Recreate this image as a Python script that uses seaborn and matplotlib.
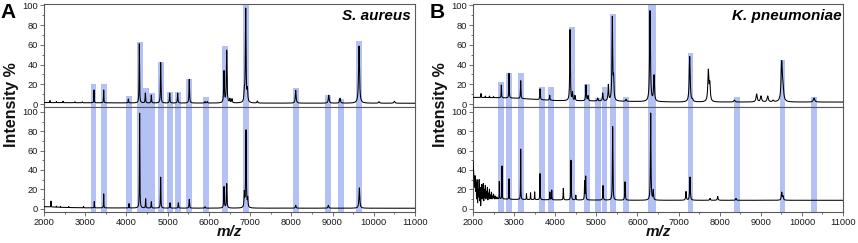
import numpy as np
import pandas as pd
import seaborn as sns
import matplotlib.pyplot as plt
from matplotlib.ticker import MultipleLocator

# ---------------- data ----------------
# highlighted m/z windows (centre, width) and their heights in the reference trace
a_band_mz = [3200, 3460, 4055, 4330, 4470, 4620, 4845, 5053, 5250, 5518, 5922,
             6384, 6904, 8110, 8890, 9198, 9635]
a_band_w = [140, 140, 145, 135, 150, 150, 145, 140, 145, 145, 145,
            145, 140, 150, 145, 145, 145]
a_band_h = [20, 20, 8.5, 62.5, 16, 11.5, 42.5, 12, 12.5, 25.5, 7,
            59, 104, 16, 9, 5.5, 64]

b_band_mz = [2685, 2880, 3164, 3675, 3894, 4400, 4777, 5037, 5198, 5402, 5726,
             6350, 7283, 8422, 9528, 10295]
b_band_w = [138, 138, 138, 138, 138, 138, 138, 138, 136, 138, 138,
            188, 122, 130, 137, 130]
b_band_h = [22, 32, 32, 17, 17, 78, 20, 6, 17, 91, 7,
            104, 52, 7, 45, 7]

# S. aureus, reference spectrum (upper)
a_ref_base_mz = [2000, 3000, 5000, 8000, 11000]
a_ref_base_i = [1.5, 1.3, 1.0, 0.9, 0.8]
a_ref_peak_mz = [2146, 2300, 2460, 2750, 2930, 3213, 3448, 4046, 4312, 4458, 4603,
                 4830, 5049, 5243, 5524, 5905, 5960, 6367, 6432, 6510, 6560,
                 6860, 6893, 6935, 7175, 8106, 8907, 9181, 9642, 10127, 10500]
a_ref_peak_i = [2, 1, 1.5, 1, 1, 13, 13, 4, 60, 10, 8,
                41, 10, 10, 24, 1.5, 1.5, 32, 53, 4, 4,
                10, 95, 12, 2, 13, 8, 5, 58, 1.5, 2]

# S. aureus, measured spectrum (lower)
a_smp_base_mz = [2000, 2500, 3000, 5000, 11000]
a_smp_base_i = [2.0, 1.2, 0.8, 0.5, 0.4]
a_smp_peak_mz = [2170, 2300, 2400, 2600, 2960, 3220, 3448, 4062, 4320, 4466, 4603,
                 4830, 5056, 5258, 5524, 5905, 6367, 6432, 6860, 6900, 6942,
                 8106, 8898, 9650]
a_smp_peak_i = [6, 1, 1, 1, 1.5, 6.5, 14.5, 4.5, 98, 9.5, 6.5,
                32, 5.5, 5.5, 9, 1.5, 22, 25, 15, 80, 9,
                3, 3, 21]

# K. pneumoniae, reference spectrum (upper)
b_ref_base_mz = [2000, 2500, 3000, 3400, 4000, 5000, 6000, 7000, 11000]
b_ref_base_i = [6.7, 6.5, 6.0, 5.0, 3.5, 3.0, 2.5, 2.0, 2.0]
b_ref_peak_mz = [2195, 2300, 2400, 2500, 2689, 2876, 3160, 3630, 3866, 4360, 4420,
                 4480, 4749, 4800, 5033, 5155, 5292, 5389, 5420, 5722, 6306, 6403,
                 7271, 7340, 7724, 7760, 8357, 8900, 9005, 9168, 9300, 9509, 9540,
                 10295]
b_ref_peak_i = [4, 1.5, 1.5, 1, 13, 25, 18, 11, 5, 72, 8,
                5, 16, 5, 3, 8, 16, 84, 20, 2, 92, 26,
                46, 2, 31, 17, 2, 8, 6, 6, 1.5, 39, 12,
                4]

# K. pneumoniae, measured spectrum (lower) - noisy start then flat baseline
b_smp_base_mz = [2000, 2012, 2025, 2037, 2050, 2062, 2075, 2087, 2100, 2112, 2125,
                 2137, 2150, 2162, 2175, 2187, 2200, 2212, 2225, 2237, 2250, 2262,
                 2275, 2287, 2300, 2312, 2325, 2337, 2350, 2362, 2375, 2387, 2400,
                 2412, 2425, 2437, 2450, 2462, 2475, 2487, 2500, 2520, 2540, 2560,
                 2580, 2600, 2700, 3000, 4000, 6000, 11000]
b_smp_base_i = [49, 40, 30, 22, 34, 18, 27, 10, 30, 6, 20, 12, 30, 8, 22, 3, 18, 25,
                10, 15, 26, 8, 20, 12, 24, 10, 18, 12, 22, 9, 16, 12, 20, 10, 14,
                11, 17, 10, 13, 11, 15, 10, 13, 10, 12, 10, 10, 9.5, 9, 8.6, 8.6]
b_smp_peak_mz = [2640, 2705, 2876, 3160, 3300, 3400, 3500, 3630, 3870, 3915, 4197,
                 4384, 4500, 4715, 4741, 5162, 5397, 5697, 6322, 6385, 7181, 7278,
                 7766, 7952, 8397, 9509, 9540]
b_smp_peak_i = [18, 34, 21, 52, 6, 7, 8, 27, 8, 10, 12,
                41, 5, 19, 24, 15, 76, 19, 90, 10, 9, 24,
                2, 4, 2, 8, 4]

x_ticks = [2000, 3000, 4000, 5000, 6000, 7000, 8000, 9000, 10000, 11000]
y_ticks = [0, 20, 40, 60, 80, 100]
species = ["S. aureus", "K. pneumoniae"]
panel_letters = ["A", "B"]

# ---------------- style ----------------
sns.set_theme(style="white")
plt.rcParams["font.family"] = ["Liberation Sans", "DejaVu Sans"]
BAND = "#b3c1f4"
SPINE = "#5a5a5a"

fig = plt.figure(figsize=(8.58, 2.43), dpi=100)
W, H = 858.0, 243.0


def trace(base_mz, base_i, peak_mz, peak_i, rel_w):
    grid = np.arange(2000.0, 11000.5, 1.0)
    y = np.interp(grid, base_mz, base_i)
    for m, h in zip(peak_mz, peak_i):
        g = rel_w * m
        y = y + h * g * g / ((grid - m) ** 2 + g * g)
    return pd.DataFrame({"mz": grid, "intensity": y})


def style_axes(ax, ylim, show_x):
    ax.set_xlim(2000, 11000)
    ax.set_ylim(*ylim)
    ax.set_xticks(x_ticks)
    ax.set_yticks(y_ticks)
    ax.xaxis.set_minor_locator(MultipleLocator(500))
    ax.yaxis.set_minor_locator(MultipleLocator(10))
    ax.tick_params(which="both", direction="out", bottom=True, left=True,
                   top=False, right=False, colors=SPINE, labelcolor="#1a1a1a",
                   labelsize=6.7, width=0.6, pad=1.5)
    ax.tick_params(which="major", length=2.6)
    ax.tick_params(which="minor", length=1.5)
    ax.tick_params(axis="x", labelbottom=show_x)
    for s in ax.spines.values():
        s.set_color(SPINE)
        s.set_linewidth(0.8)
    ax.set_xlabel("")
    ax.set_ylabel("")
    ax.set_facecolor("white")


panels = [
    (44, 415, a_band_mz, a_band_w, a_band_h,
     trace(a_ref_base_mz, a_ref_base_i, a_ref_peak_mz, a_ref_peak_i, 0.0014),
     trace(a_smp_base_mz, a_smp_base_i, a_smp_peak_mz, a_smp_peak_i, 0.0012),
     0.988),
    (473, 843, b_band_mz, b_band_w, b_band_h,
     trace(b_ref_base_mz, b_ref_base_i, b_ref_peak_mz, b_ref_peak_i, 0.0019),
     trace(b_smp_base_mz, b_smp_base_i, b_smp_peak_mz, b_smp_peak_i, 0.0012),
     0.996),
]

up_lim = (-3, 101.5)
lo_lim = (-3.5, 105)

for k, (x0, x1, bmz, bw, bh, ref, smp, tx) in enumerate(panels):
    ax_up = fig.add_axes([x0 / W, 1 - 107 / H, (x1 - x0) / W, 103 / H])
    ax_lo = fig.add_axes([x0 / W, 1 - 212 / H, (x1 - x0) / W, 105 / H])

    # highlight bands
    ax_up.bar(bmz, [h - up_lim[0] for h in bh], bottom=up_lim[0], width=bw,
              color=BAND, edgecolor="none", zorder=0)
    ax_lo.bar(bmz, [lo_lim[1] - lo_lim[0] + 5] * len(bmz), bottom=lo_lim[0] - 2,
              width=bw, color=BAND, edgecolor="none", zorder=0)

    sns.lineplot(data=ref, x="mz", y="intensity", ax=ax_up, color="black",
                 linewidth=0.75, estimator=None, sort=False, zorder=3)
    sns.lineplot(data=smp, x="mz", y="intensity", ax=ax_lo, color="black",
                 linewidth=0.75, estimator=None, sort=False, zorder=3)

    style_axes(ax_up, up_lim, False)
    style_axes(ax_lo, lo_lim, True)

    ax_up.text(tx, 0.888, species[k], transform=ax_up.transAxes, ha="right",
               va="center", fontsize=11, fontweight="bold", fontstyle="italic",
               color="black")

    fig.text((x0 - 32) / W, 1 - 105 / H, "Intensity %", rotation=90,
             ha="center", va="center", fontsize=11.5, fontweight="bold",
             color="#111111")
    fig.text((x0 + x1) / 2 / W, 1 - 232 / H, "m/z", ha="center", va="center",
             fontsize=11, fontweight="bold", fontstyle="italic", color="#111111")
    fig.text((x0 - 35.5) / W, 1 - 12.5 / H, panel_letters[k], ha="center",
             va="center", fontsize=15, fontweight="bold", color="black")

fig.savefig("out.png", dpi=100)
